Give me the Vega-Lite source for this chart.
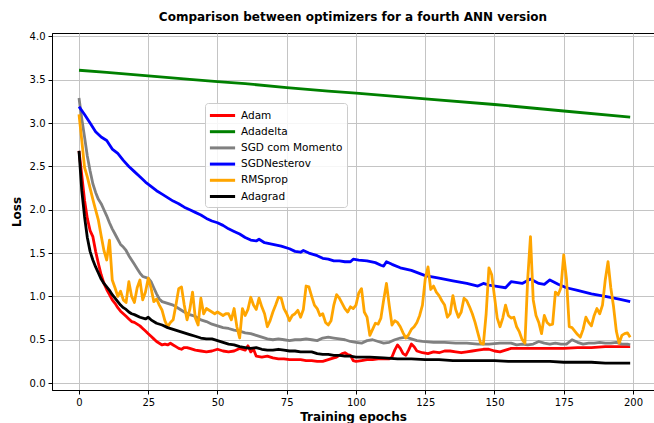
{
"$schema": "https://vega.github.io/schema/vega-lite/v6.json",
"width": 602, "height": 357,
"autosize": "none",
"padding": {"left": 52, "top": 33, "right": 0, "bottom": 33},
"background": "white",
"title": {"text": "Comparison between optimizers for a fourth ANN version", "font": "DejaVu Sans", "fontSize": 12, "fontWeight": "bold", "color": "black", "anchor": "middle", "offset": 7},
"config": {
  "view": {"stroke": "black", "strokeWidth": 1},
  "axis": {"labelFont": "DejaVu Sans", "labelFontSize": 10, "labelColor": "black", "titleFont": "DejaVu Sans", "titleFontSize": 12, "titleFontWeight": "bold", "titleColor": "black", "domainColor": "black", "tickColor": "black", "tickSize": 4, "labelPadding": 3, "gridColor": "#c4c4c4", "gridWidth": 1}
},
"data": {"values": [
{"o":"Adam","e":0,"v":2.68},{"o":"Adam","e":1,"v":2.4},{"o":"Adam","e":2,"v":2.11},{"o":"Adam","e":3,"v":1.9},{"o":"Adam","e":4,"v":1.76},{"o":"Adam","e":5,"v":1.69},{"o":"Adam","e":6,"v":1.52},{"o":"Adam","e":7,"v":1.38},{"o":"Adam","e":8,"v":1.25},{"o":"Adam","e":9,"v":1.15},{"o":"Adam","e":10,"v":1.08},{"o":"Adam","e":11,"v":1.02},{"o":"Adam","e":12,"v":0.96},{"o":"Adam","e":13,"v":0.92},{"o":"Adam","e":14,"v":0.87},{"o":"Adam","e":15,"v":0.83},{"o":"Adam","e":16,"v":0.8},{"o":"Adam","e":17,"v":0.77},{"o":"Adam","e":18,"v":0.74},{"o":"Adam","e":19,"v":0.71},{"o":"Adam","e":20,"v":0.7},{"o":"Adam","e":21,"v":0.68},{"o":"Adam","e":22,"v":0.66},{"o":"Adam","e":23,"v":0.63},{"o":"Adam","e":24,"v":0.6},{"o":"Adam","e":25,"v":0.57},{"o":"Adam","e":26,"v":0.54},{"o":"Adam","e":27,"v":0.51},{"o":"Adam","e":28,"v":0.48},{"o":"Adam","e":29,"v":0.46},{"o":"Adam","e":30,"v":0.44},{"o":"Adam","e":31,"v":0.45},{"o":"Adam","e":32,"v":0.44},{"o":"Adam","e":33,"v":0.46},{"o":"Adam","e":34,"v":0.44},{"o":"Adam","e":35,"v":0.42},{"o":"Adam","e":36,"v":0.4},{"o":"Adam","e":37,"v":0.39},{"o":"Adam","e":38,"v":0.41},{"o":"Adam","e":39,"v":0.41},{"o":"Adam","e":40,"v":0.4},{"o":"Adam","e":42,"v":0.38},{"o":"Adam","e":44,"v":0.37},{"o":"Adam","e":46,"v":0.36},{"o":"Adam","e":48,"v":0.37},{"o":"Adam","e":50,"v":0.39},{"o":"Adam","e":52,"v":0.37},{"o":"Adam","e":54,"v":0.36},{"o":"Adam","e":56,"v":0.37},{"o":"Adam","e":58,"v":0.4},{"o":"Adam","e":60,"v":0.38},{"o":"Adam","e":61,"v":0.43},{"o":"Adam","e":62,"v":0.36},{"o":"Adam","e":63,"v":0.39},{"o":"Adam","e":64,"v":0.31},{"o":"Adam","e":66,"v":0.3},{"o":"Adam","e":68,"v":0.31},{"o":"Adam","e":70,"v":0.29},{"o":"Adam","e":72,"v":0.28},{"o":"Adam","e":74,"v":0.28},{"o":"Adam","e":76,"v":0.27},{"o":"Adam","e":78,"v":0.27},{"o":"Adam","e":80,"v":0.27},{"o":"Adam","e":82,"v":0.26},{"o":"Adam","e":84,"v":0.26},{"o":"Adam","e":86,"v":0.25},{"o":"Adam","e":88,"v":0.25},{"o":"Adam","e":90,"v":0.27},{"o":"Adam","e":92,"v":0.29},{"o":"Adam","e":93,"v":0.3},{"o":"Adam","e":95,"v":0.34},{"o":"Adam","e":96,"v":0.35},{"o":"Adam","e":97,"v":0.33},{"o":"Adam","e":98,"v":0.32},{"o":"Adam","e":99,"v":0.26},{"o":"Adam","e":100,"v":0.25},{"o":"Adam","e":102,"v":0.26},{"o":"Adam","e":104,"v":0.27},{"o":"Adam","e":106,"v":0.27},{"o":"Adam","e":108,"v":0.28},{"o":"Adam","e":110,"v":0.28},{"o":"Adam","e":112,"v":0.28},{"o":"Adam","e":113,"v":0.3},{"o":"Adam","e":114,"v":0.38},{"o":"Adam","e":115,"v":0.44},{"o":"Adam","e":116,"v":0.4},{"o":"Adam","e":117,"v":0.34},{"o":"Adam","e":118,"v":0.32},{"o":"Adam","e":119,"v":0.38},{"o":"Adam","e":120,"v":0.45},{"o":"Adam","e":121,"v":0.42},{"o":"Adam","e":122,"v":0.37},{"o":"Adam","e":124,"v":0.35},{"o":"Adam","e":126,"v":0.34},{"o":"Adam","e":128,"v":0.36},{"o":"Adam","e":130,"v":0.35},{"o":"Adam","e":132,"v":0.37},{"o":"Adam","e":134,"v":0.37},{"o":"Adam","e":136,"v":0.36},{"o":"Adam","e":138,"v":0.35},{"o":"Adam","e":140,"v":0.36},{"o":"Adam","e":142,"v":0.37},{"o":"Adam","e":144,"v":0.38},{"o":"Adam","e":146,"v":0.39},{"o":"Adam","e":148,"v":0.39},{"o":"Adam","e":150,"v":0.37},{"o":"Adam","e":152,"v":0.36},{"o":"Adam","e":154,"v":0.38},{"o":"Adam","e":156,"v":0.4},{"o":"Adam","e":160,"v":0.4},{"o":"Adam","e":165,"v":0.4},{"o":"Adam","e":170,"v":0.4},{"o":"Adam","e":175,"v":0.4},{"o":"Adam","e":180,"v":0.41},{"o":"Adam","e":185,"v":0.41},{"o":"Adam","e":190,"v":0.42},{"o":"Adam","e":195,"v":0.42},{"o":"Adam","e":199,"v":0.42},
{"o":"Adadelta","e":0,"v":3.61},{"o":"Adadelta","e":10,"v":3.585},{"o":"Adadelta","e":25,"v":3.545},{"o":"Adadelta","e":40,"v":3.505},{"o":"Adadelta","e":50,"v":3.48},{"o":"Adadelta","e":60,"v":3.455},{"o":"Adadelta","e":75,"v":3.41},{"o":"Adadelta","e":90,"v":3.37},{"o":"Adadelta","e":100,"v":3.345},{"o":"Adadelta","e":125,"v":3.28},{"o":"Adadelta","e":150,"v":3.215},{"o":"Adadelta","e":175,"v":3.14},{"o":"Adadelta","e":199,"v":3.07},
{"o":"SGD com Momento","e":0,"v":3.29},{"o":"SGD com Momento","e":1,"v":3.05},{"o":"SGD com Momento","e":2,"v":2.84},{"o":"SGD com Momento","e":3,"v":2.62},{"o":"SGD com Momento","e":4,"v":2.45},{"o":"SGD com Momento","e":5,"v":2.3},{"o":"SGD com Momento","e":6,"v":2.2},{"o":"SGD com Momento","e":7,"v":2.12},{"o":"SGD com Momento","e":8,"v":2.07},{"o":"SGD com Momento","e":9,"v":2.0},{"o":"SGD com Momento","e":10,"v":1.93},{"o":"SGD com Momento","e":11,"v":1.85},{"o":"SGD com Momento","e":12,"v":1.78},{"o":"SGD com Momento","e":13,"v":1.72},{"o":"SGD com Momento","e":14,"v":1.66},{"o":"SGD com Momento","e":15,"v":1.6},{"o":"SGD com Momento","e":16,"v":1.57},{"o":"SGD com Momento","e":17,"v":1.53},{"o":"SGD com Momento","e":18,"v":1.47},{"o":"SGD com Momento","e":19,"v":1.42},{"o":"SGD com Momento","e":20,"v":1.37},{"o":"SGD com Momento","e":21,"v":1.32},{"o":"SGD com Momento","e":22,"v":1.27},{"o":"SGD com Momento","e":23,"v":1.23},{"o":"SGD com Momento","e":24,"v":1.22},{"o":"SGD com Momento","e":25,"v":1.21},{"o":"SGD com Momento","e":26,"v":1.17},{"o":"SGD com Momento","e":27,"v":1.1},{"o":"SGD com Momento","e":28,"v":1.03},{"o":"SGD com Momento","e":29,"v":0.97},{"o":"SGD com Momento","e":30,"v":0.94},{"o":"SGD com Momento","e":32,"v":0.92},{"o":"SGD com Momento","e":34,"v":0.9},{"o":"SGD com Momento","e":36,"v":0.86},{"o":"SGD com Momento","e":38,"v":0.82},{"o":"SGD com Momento","e":40,"v":0.79},{"o":"SGD com Momento","e":42,"v":0.77},{"o":"SGD com Momento","e":44,"v":0.73},{"o":"SGD com Momento","e":46,"v":0.71},{"o":"SGD com Momento","e":48,"v":0.68},{"o":"SGD com Momento","e":50,"v":0.66},{"o":"SGD com Momento","e":52,"v":0.64},{"o":"SGD com Momento","e":54,"v":0.63},{"o":"SGD com Momento","e":56,"v":0.61},{"o":"SGD com Momento","e":58,"v":0.6},{"o":"SGD com Momento","e":60,"v":0.58},{"o":"SGD com Momento","e":62,"v":0.57},{"o":"SGD com Momento","e":64,"v":0.55},{"o":"SGD com Momento","e":66,"v":0.53},{"o":"SGD com Momento","e":68,"v":0.51},{"o":"SGD com Momento","e":70,"v":0.5},{"o":"SGD com Momento","e":72,"v":0.51},{"o":"SGD com Momento","e":74,"v":0.5},{"o":"SGD com Momento","e":76,"v":0.49},{"o":"SGD com Momento","e":78,"v":0.5},{"o":"SGD com Momento","e":80,"v":0.5},{"o":"SGD com Momento","e":82,"v":0.51},{"o":"SGD com Momento","e":84,"v":0.5},{"o":"SGD com Momento","e":86,"v":0.49},{"o":"SGD com Momento","e":88,"v":0.52},{"o":"SGD com Momento","e":90,"v":0.53},{"o":"SGD com Momento","e":92,"v":0.52},{"o":"SGD com Momento","e":94,"v":0.51},{"o":"SGD com Momento","e":96,"v":0.5},{"o":"SGD com Momento","e":98,"v":0.48},{"o":"SGD com Momento","e":100,"v":0.47},{"o":"SGD com Momento","e":102,"v":0.46},{"o":"SGD com Momento","e":104,"v":0.49},{"o":"SGD com Momento","e":106,"v":0.5},{"o":"SGD com Momento","e":108,"v":0.48},{"o":"SGD com Momento","e":110,"v":0.46},{"o":"SGD com Momento","e":112,"v":0.47},{"o":"SGD com Momento","e":114,"v":0.5},{"o":"SGD com Momento","e":116,"v":0.52},{"o":"SGD com Momento","e":118,"v":0.53},{"o":"SGD com Momento","e":120,"v":0.51},{"o":"SGD com Momento","e":122,"v":0.49},{"o":"SGD com Momento","e":124,"v":0.48},{"o":"SGD com Momento","e":128,"v":0.47},{"o":"SGD com Momento","e":132,"v":0.47},{"o":"SGD com Momento","e":136,"v":0.46},{"o":"SGD com Momento","e":140,"v":0.46},{"o":"SGD com Momento","e":144,"v":0.45},{"o":"SGD com Momento","e":148,"v":0.45},{"o":"SGD com Momento","e":152,"v":0.46},{"o":"SGD com Momento","e":156,"v":0.46},{"o":"SGD com Momento","e":158,"v":0.44},{"o":"SGD com Momento","e":160,"v":0.45},{"o":"SGD com Momento","e":162,"v":0.44},{"o":"SGD com Momento","e":164,"v":0.45},{"o":"SGD com Momento","e":166,"v":0.48},{"o":"SGD com Momento","e":168,"v":0.46},{"o":"SGD com Momento","e":170,"v":0.45},{"o":"SGD com Momento","e":172,"v":0.46},{"o":"SGD com Momento","e":174,"v":0.45},{"o":"SGD com Momento","e":176,"v":0.45},{"o":"SGD com Momento","e":178,"v":0.5},{"o":"SGD com Momento","e":180,"v":0.47},{"o":"SGD com Momento","e":182,"v":0.45},{"o":"SGD com Momento","e":184,"v":0.46},{"o":"SGD com Momento","e":186,"v":0.46},{"o":"SGD com Momento","e":188,"v":0.47},{"o":"SGD com Momento","e":190,"v":0.46},{"o":"SGD com Momento","e":192,"v":0.46},{"o":"SGD com Momento","e":194,"v":0.47},{"o":"SGD com Momento","e":196,"v":0.45},{"o":"SGD com Momento","e":198,"v":0.45},{"o":"SGD com Momento","e":199,"v":0.44},
{"o":"SGDNesterov","e":0,"v":3.19},{"o":"SGDNesterov","e":2,"v":3.1},{"o":"SGDNesterov","e":4,"v":3.0},{"o":"SGDNesterov","e":6,"v":2.9},{"o":"SGDNesterov","e":8,"v":2.84},{"o":"SGDNesterov","e":10,"v":2.8},{"o":"SGDNesterov","e":12,"v":2.7},{"o":"SGDNesterov","e":14,"v":2.65},{"o":"SGDNesterov","e":16,"v":2.57},{"o":"SGDNesterov","e":18,"v":2.5},{"o":"SGDNesterov","e":20,"v":2.44},{"o":"SGDNesterov","e":22,"v":2.38},{"o":"SGDNesterov","e":24,"v":2.32},{"o":"SGDNesterov","e":26,"v":2.27},{"o":"SGDNesterov","e":28,"v":2.22},{"o":"SGDNesterov","e":30,"v":2.18},{"o":"SGDNesterov","e":32,"v":2.14},{"o":"SGDNesterov","e":34,"v":2.1},{"o":"SGDNesterov","e":36,"v":2.07},{"o":"SGDNesterov","e":38,"v":2.03},{"o":"SGDNesterov","e":40,"v":2.0},{"o":"SGDNesterov","e":42,"v":1.97},{"o":"SGDNesterov","e":44,"v":1.94},{"o":"SGDNesterov","e":46,"v":1.9},{"o":"SGDNesterov","e":48,"v":1.87},{"o":"SGDNesterov","e":50,"v":1.85},{"o":"SGDNesterov","e":52,"v":1.82},{"o":"SGDNesterov","e":54,"v":1.78},{"o":"SGDNesterov","e":56,"v":1.75},{"o":"SGDNesterov","e":58,"v":1.72},{"o":"SGDNesterov","e":60,"v":1.68},{"o":"SGDNesterov","e":62,"v":1.65},{"o":"SGDNesterov","e":64,"v":1.64},{"o":"SGDNesterov","e":65,"v":1.66},{"o":"SGDNesterov","e":67,"v":1.62},{"o":"SGDNesterov","e":70,"v":1.6},{"o":"SGDNesterov","e":73,"v":1.58},{"o":"SGDNesterov","e":76,"v":1.55},{"o":"SGDNesterov","e":78,"v":1.52},{"o":"SGDNesterov","e":80,"v":1.51},{"o":"SGDNesterov","e":81,"v":1.53},{"o":"SGDNesterov","e":83,"v":1.5},{"o":"SGDNesterov","e":86,"v":1.47},{"o":"SGDNesterov","e":88,"v":1.44},{"o":"SGDNesterov","e":90,"v":1.43},{"o":"SGDNesterov","e":92,"v":1.41},{"o":"SGDNesterov","e":94,"v":1.41},{"o":"SGDNesterov","e":96,"v":1.4},{"o":"SGDNesterov","e":98,"v":1.4},{"o":"SGDNesterov","e":99,"v":1.43},{"o":"SGDNesterov","e":101,"v":1.42},{"o":"SGDNesterov","e":104,"v":1.41},{"o":"SGDNesterov","e":107,"v":1.39},{"o":"SGDNesterov","e":109,"v":1.36},{"o":"SGDNesterov","e":110,"v":1.35},{"o":"SGDNesterov","e":111,"v":1.4},{"o":"SGDNesterov","e":113,"v":1.37},{"o":"SGDNesterov","e":116,"v":1.33},{"o":"SGDNesterov","e":120,"v":1.3},{"o":"SGDNesterov","e":125,"v":1.24},{"o":"SGDNesterov","e":130,"v":1.21},{"o":"SGDNesterov","e":135,"v":1.18},{"o":"SGDNesterov","e":140,"v":1.15},{"o":"SGDNesterov","e":144,"v":1.12},{"o":"SGDNesterov","e":146,"v":1.15},{"o":"SGDNesterov","e":148,"v":1.13},{"o":"SGDNesterov","e":152,"v":1.11},{"o":"SGDNesterov","e":154,"v":1.1},{"o":"SGDNesterov","e":156,"v":1.17},{"o":"SGDNesterov","e":160,"v":1.15},{"o":"SGDNesterov","e":163,"v":1.2},{"o":"SGDNesterov","e":166,"v":1.15},{"o":"SGDNesterov","e":168,"v":1.14},{"o":"SGDNesterov","e":170,"v":1.19},{"o":"SGDNesterov","e":173,"v":1.14},{"o":"SGDNesterov","e":176,"v":1.1},{"o":"SGDNesterov","e":180,"v":1.07},{"o":"SGDNesterov","e":185,"v":1.03},{"o":"SGDNesterov","e":190,"v":1.0},{"o":"SGDNesterov","e":195,"v":0.97},{"o":"SGDNesterov","e":199,"v":0.94},
{"o":"RMSprop","e":0,"v":3.1},{"o":"RMSprop","e":1,"v":2.8},{"o":"RMSprop","e":2,"v":2.49},{"o":"RMSprop","e":3,"v":2.38},{"o":"RMSprop","e":4,"v":2.25},{"o":"RMSprop","e":5,"v":2.12},{"o":"RMSprop","e":6,"v":2.0},{"o":"RMSprop","e":7,"v":1.88},{"o":"RMSprop","e":8,"v":1.7},{"o":"RMSprop","e":9,"v":1.53},{"o":"RMSprop","e":10,"v":1.42},{"o":"RMSprop","e":11,"v":1.65},{"o":"RMSprop","e":12,"v":1.19},{"o":"RMSprop","e":13,"v":1.1},{"o":"RMSprop","e":14,"v":1.0},{"o":"RMSprop","e":15,"v":1.06},{"o":"RMSprop","e":16,"v":0.96},{"o":"RMSprop","e":17,"v":0.93},{"o":"RMSprop","e":18,"v":1.17},{"o":"RMSprop","e":19,"v":1.0},{"o":"RMSprop","e":20,"v":0.93},{"o":"RMSprop","e":21,"v":1.1},{"o":"RMSprop","e":22,"v":1.19},{"o":"RMSprop","e":23,"v":0.96},{"o":"RMSprop","e":24,"v":1.05},{"o":"RMSprop","e":25,"v":1.21},{"o":"RMSprop","e":26,"v":1.1},{"o":"RMSprop","e":27,"v":0.94},{"o":"RMSprop","e":28,"v":0.97},{"o":"RMSprop","e":29,"v":0.9},{"o":"RMSprop","e":30,"v":0.84},{"o":"RMSprop","e":31,"v":0.72},{"o":"RMSprop","e":32,"v":0.65},{"o":"RMSprop","e":33,"v":0.7},{"o":"RMSprop","e":34,"v":0.73},{"o":"RMSprop","e":35,"v":0.9},{"o":"RMSprop","e":36,"v":1.09},{"o":"RMSprop","e":37,"v":1.11},{"o":"RMSprop","e":38,"v":0.9},{"o":"RMSprop","e":39,"v":0.73},{"o":"RMSprop","e":40,"v":0.85},{"o":"RMSprop","e":41,"v":1.05},{"o":"RMSprop","e":42,"v":0.75},{"o":"RMSprop","e":43,"v":0.67},{"o":"RMSprop","e":44,"v":0.98},{"o":"RMSprop","e":45,"v":0.8},{"o":"RMSprop","e":46,"v":0.86},{"o":"RMSprop","e":47,"v":0.84},{"o":"RMSprop","e":48,"v":0.82},{"o":"RMSprop","e":49,"v":0.8},{"o":"RMSprop","e":50,"v":0.82},{"o":"RMSprop","e":51,"v":0.8},{"o":"RMSprop","e":52,"v":0.78},{"o":"RMSprop","e":53,"v":0.8},{"o":"RMSprop","e":54,"v":0.8},{"o":"RMSprop","e":55,"v":0.73},{"o":"RMSprop","e":56,"v":0.86},{"o":"RMSprop","e":57,"v":0.65},{"o":"RMSprop","e":58,"v":0.52},{"o":"RMSprop","e":59,"v":0.86},{"o":"RMSprop","e":60,"v":0.78},{"o":"RMSprop","e":61,"v":0.85},{"o":"RMSprop","e":62,"v":0.99},{"o":"RMSprop","e":63,"v":0.9},{"o":"RMSprop","e":64,"v":0.85},{"o":"RMSprop","e":65,"v":0.98},{"o":"RMSprop","e":66,"v":0.88},{"o":"RMSprop","e":67,"v":0.8},{"o":"RMSprop","e":68,"v":0.65},{"o":"RMSprop","e":69,"v":0.72},{"o":"RMSprop","e":70,"v":0.82},{"o":"RMSprop","e":71,"v":0.9},{"o":"RMSprop","e":72,"v":0.99},{"o":"RMSprop","e":73,"v":0.98},{"o":"RMSprop","e":74,"v":0.86},{"o":"RMSprop","e":75,"v":0.8},{"o":"RMSprop","e":76,"v":0.72},{"o":"RMSprop","e":77,"v":0.78},{"o":"RMSprop","e":78,"v":0.8},{"o":"RMSprop","e":79,"v":0.84},{"o":"RMSprop","e":80,"v":0.76},{"o":"RMSprop","e":81,"v":0.85},{"o":"RMSprop","e":82,"v":1.12},{"o":"RMSprop","e":83,"v":1.11},{"o":"RMSprop","e":84,"v":1.0},{"o":"RMSprop","e":85,"v":0.9},{"o":"RMSprop","e":86,"v":0.86},{"o":"RMSprop","e":87,"v":0.78},{"o":"RMSprop","e":88,"v":0.8},{"o":"RMSprop","e":89,"v":0.7},{"o":"RMSprop","e":90,"v":0.67},{"o":"RMSprop","e":91,"v":0.72},{"o":"RMSprop","e":92,"v":0.9},{"o":"RMSprop","e":93,"v":1.02},{"o":"RMSprop","e":94,"v":0.98},{"o":"RMSprop","e":95,"v":0.92},{"o":"RMSprop","e":96,"v":0.86},{"o":"RMSprop","e":97,"v":0.82},{"o":"RMSprop","e":98,"v":0.88},{"o":"RMSprop","e":99,"v":0.86},{"o":"RMSprop","e":100,"v":0.9},{"o":"RMSprop","e":101,"v":1.04},{"o":"RMSprop","e":102,"v":1.09},{"o":"RMSprop","e":103,"v":0.82},{"o":"RMSprop","e":104,"v":0.76},{"o":"RMSprop","e":105,"v":0.55},{"o":"RMSprop","e":106,"v":0.62},{"o":"RMSprop","e":107,"v":0.69},{"o":"RMSprop","e":108,"v":0.68},{"o":"RMSprop","e":109,"v":0.75},{"o":"RMSprop","e":110,"v":0.96},{"o":"RMSprop","e":111,"v":1.15},{"o":"RMSprop","e":112,"v":0.9},{"o":"RMSprop","e":113,"v":0.67},{"o":"RMSprop","e":114,"v":0.72},{"o":"RMSprop","e":115,"v":0.7},{"o":"RMSprop","e":116,"v":0.65},{"o":"RMSprop","e":117,"v":0.58},{"o":"RMSprop","e":118,"v":0.52},{"o":"RMSprop","e":119,"v":0.56},{"o":"RMSprop","e":120,"v":0.62},{"o":"RMSprop","e":121,"v":0.65},{"o":"RMSprop","e":122,"v":0.7},{"o":"RMSprop","e":123,"v":0.78},{"o":"RMSprop","e":124,"v":0.9},{"o":"RMSprop","e":125,"v":1.2},{"o":"RMSprop","e":126,"v":1.34},{"o":"RMSprop","e":127,"v":1.08},{"o":"RMSprop","e":128,"v":1.12},{"o":"RMSprop","e":129,"v":1.05},{"o":"RMSprop","e":130,"v":1.01},{"o":"RMSprop","e":131,"v":0.95},{"o":"RMSprop","e":132,"v":0.9},{"o":"RMSprop","e":133,"v":0.76},{"o":"RMSprop","e":134,"v":0.8},{"o":"RMSprop","e":135,"v":1.01},{"o":"RMSprop","e":136,"v":0.85},{"o":"RMSprop","e":137,"v":0.76},{"o":"RMSprop","e":138,"v":0.82},{"o":"RMSprop","e":139,"v":0.98},{"o":"RMSprop","e":140,"v":0.95},{"o":"RMSprop","e":141,"v":0.88},{"o":"RMSprop","e":142,"v":0.8},{"o":"RMSprop","e":143,"v":0.7},{"o":"RMSprop","e":144,"v":0.58},{"o":"RMSprop","e":145,"v":0.46},{"o":"RMSprop","e":146,"v":0.45},{"o":"RMSprop","e":147,"v":0.8},{"o":"RMSprop","e":148,"v":1.33},{"o":"RMSprop","e":149,"v":1.25},{"o":"RMSprop","e":150,"v":1.0},{"o":"RMSprop","e":151,"v":0.75},{"o":"RMSprop","e":152,"v":0.65},{"o":"RMSprop","e":153,"v":0.75},{"o":"RMSprop","e":154,"v":0.9},{"o":"RMSprop","e":155,"v":0.78},{"o":"RMSprop","e":156,"v":0.75},{"o":"RMSprop","e":157,"v":0.76},{"o":"RMSprop","e":158,"v":0.65},{"o":"RMSprop","e":159,"v":0.59},{"o":"RMSprop","e":160,"v":0.5},{"o":"RMSprop","e":161,"v":0.46},{"o":"RMSprop","e":162,"v":1.2},{"o":"RMSprop","e":163,"v":1.69},{"o":"RMSprop","e":164,"v":0.96},{"o":"RMSprop","e":165,"v":0.78},{"o":"RMSprop","e":166,"v":0.7},{"o":"RMSprop","e":167,"v":0.57},{"o":"RMSprop","e":168,"v":0.78},{"o":"RMSprop","e":169,"v":0.7},{"o":"RMSprop","e":170,"v":0.67},{"o":"RMSprop","e":171,"v":0.68},{"o":"RMSprop","e":172,"v":1.05},{"o":"RMSprop","e":173,"v":1.02},{"o":"RMSprop","e":174,"v":1.1},{"o":"RMSprop","e":175,"v":1.48},{"o":"RMSprop","e":176,"v":1.2},{"o":"RMSprop","e":177,"v":0.65},{"o":"RMSprop","e":178,"v":0.64},{"o":"RMSprop","e":179,"v":0.6},{"o":"RMSprop","e":180,"v":0.56},{"o":"RMSprop","e":181,"v":0.53},{"o":"RMSprop","e":182,"v":0.62},{"o":"RMSprop","e":183,"v":0.76},{"o":"RMSprop","e":184,"v":0.7},{"o":"RMSprop","e":185,"v":0.66},{"o":"RMSprop","e":186,"v":0.78},{"o":"RMSprop","e":187,"v":0.86},{"o":"RMSprop","e":188,"v":0.8},{"o":"RMSprop","e":189,"v":0.9},{"o":"RMSprop","e":190,"v":1.19},{"o":"RMSprop","e":191,"v":1.4},{"o":"RMSprop","e":192,"v":1.1},{"o":"RMSprop","e":193,"v":0.88},{"o":"RMSprop","e":194,"v":0.6},{"o":"RMSprop","e":195,"v":0.46},{"o":"RMSprop","e":196,"v":0.55},{"o":"RMSprop","e":197,"v":0.57},{"o":"RMSprop","e":198,"v":0.58},{"o":"RMSprop","e":199,"v":0.53},
{"o":"Adagrad","e":0,"v":2.68},{"o":"Adagrad","e":1,"v":2.22},{"o":"Adagrad","e":2,"v":1.92},{"o":"Adagrad","e":3,"v":1.68},{"o":"Adagrad","e":4,"v":1.52},{"o":"Adagrad","e":5,"v":1.42},{"o":"Adagrad","e":6,"v":1.34},{"o":"Adagrad","e":7,"v":1.27},{"o":"Adagrad","e":8,"v":1.2},{"o":"Adagrad","e":9,"v":1.15},{"o":"Adagrad","e":10,"v":1.11},{"o":"Adagrad","e":11,"v":1.07},{"o":"Adagrad","e":12,"v":1.02},{"o":"Adagrad","e":13,"v":0.98},{"o":"Adagrad","e":14,"v":0.94},{"o":"Adagrad","e":15,"v":0.9},{"o":"Adagrad","e":16,"v":0.87},{"o":"Adagrad","e":17,"v":0.85},{"o":"Adagrad","e":18,"v":0.82},{"o":"Adagrad","e":19,"v":0.8},{"o":"Adagrad","e":20,"v":0.79},{"o":"Adagrad","e":22,"v":0.76},{"o":"Adagrad","e":24,"v":0.74},{"o":"Adagrad","e":25,"v":0.76},{"o":"Adagrad","e":26,"v":0.73},{"o":"Adagrad","e":28,"v":0.69},{"o":"Adagrad","e":30,"v":0.67},{"o":"Adagrad","e":32,"v":0.64},{"o":"Adagrad","e":34,"v":0.62},{"o":"Adagrad","e":36,"v":0.6},{"o":"Adagrad","e":38,"v":0.58},{"o":"Adagrad","e":40,"v":0.56},{"o":"Adagrad","e":42,"v":0.54},{"o":"Adagrad","e":44,"v":0.52},{"o":"Adagrad","e":46,"v":0.51},{"o":"Adagrad","e":48,"v":0.51},{"o":"Adagrad","e":50,"v":0.49},{"o":"Adagrad","e":52,"v":0.47},{"o":"Adagrad","e":54,"v":0.45},{"o":"Adagrad","e":56,"v":0.44},{"o":"Adagrad","e":58,"v":0.42},{"o":"Adagrad","e":60,"v":0.41},{"o":"Adagrad","e":62,"v":0.4},{"o":"Adagrad","e":64,"v":0.41},{"o":"Adagrad","e":66,"v":0.39},{"o":"Adagrad","e":68,"v":0.38},{"o":"Adagrad","e":70,"v":0.38},{"o":"Adagrad","e":72,"v":0.39},{"o":"Adagrad","e":74,"v":0.38},{"o":"Adagrad","e":76,"v":0.37},{"o":"Adagrad","e":78,"v":0.37},{"o":"Adagrad","e":80,"v":0.36},{"o":"Adagrad","e":82,"v":0.36},{"o":"Adagrad","e":84,"v":0.36},{"o":"Adagrad","e":86,"v":0.34},{"o":"Adagrad","e":88,"v":0.33},{"o":"Adagrad","e":90,"v":0.33},{"o":"Adagrad","e":92,"v":0.32},{"o":"Adagrad","e":94,"v":0.32},{"o":"Adagrad","e":96,"v":0.31},{"o":"Adagrad","e":98,"v":0.31},{"o":"Adagrad","e":100,"v":0.3},{"o":"Adagrad","e":105,"v":0.3},{"o":"Adagrad","e":110,"v":0.29},{"o":"Adagrad","e":115,"v":0.28},{"o":"Adagrad","e":120,"v":0.28},{"o":"Adagrad","e":125,"v":0.27},{"o":"Adagrad","e":130,"v":0.27},{"o":"Adagrad","e":135,"v":0.26},{"o":"Adagrad","e":140,"v":0.26},{"o":"Adagrad","e":145,"v":0.26},{"o":"Adagrad","e":150,"v":0.26},{"o":"Adagrad","e":155,"v":0.25},{"o":"Adagrad","e":160,"v":0.25},{"o":"Adagrad","e":165,"v":0.25},{"o":"Adagrad","e":170,"v":0.25},{"o":"Adagrad","e":175,"v":0.24},{"o":"Adagrad","e":180,"v":0.24},{"o":"Adagrad","e":185,"v":0.24},{"o":"Adagrad","e":190,"v":0.23},{"o":"Adagrad","e":195,"v":0.23},{"o":"Adagrad","e":199,"v":0.23}
]},
"mark": {"type": "line", "strokeWidth": 2.8, "strokeJoin": "round", "clip": true},
"encoding": {
  "x": {"field": "e", "type": "quantitative", "scale": {"domain": [-9.75, 207.6], "nice": false, "zero": false}, "axis": {"values": [0, 25, 50, 75, 100, 125, 150, 175, 200], "title": "Training epochs", "titlePadding": 4}},
  "y": {"field": "v", "type": "quantitative", "scale": {"domain": [-0.08, 4.04], "nice": false, "zero": false}, "axis": {"values": [0, 0.5, 1, 1.5, 2, 2.5, 3, 3.5, 4], "format": ".1f", "title": "Loss", "titlePadding": 6}},
  "color": {"field": "o", "type": "nominal", "scale": {"domain": ["Adam", "Adadelta", "SGD com Momento", "SGDNesterov", "RMSprop", "Adagrad"], "range": ["#ff0000", "#008000", "#808080", "#0000ff", "#ffa500", "#000000"]},
    "legend": {"orient": "none", "legendX": 153, "legendY": 70, "title": null, "symbolType": "M-1.8,0H1.8", "symbolSize": 196, "symbolStrokeWidth": 3, "labelFont": "DejaVu Sans", "labelFontSize": 10.5, "labelColor": "black", "fillColor": "rgba(255,255,255,0.85)", "strokeColor": "#cccccc", "cornerRadius": 3, "padding": 4, "rowPadding": 1.2, "labelOffset": 10, "symbolOffset": 5}}
}
}
